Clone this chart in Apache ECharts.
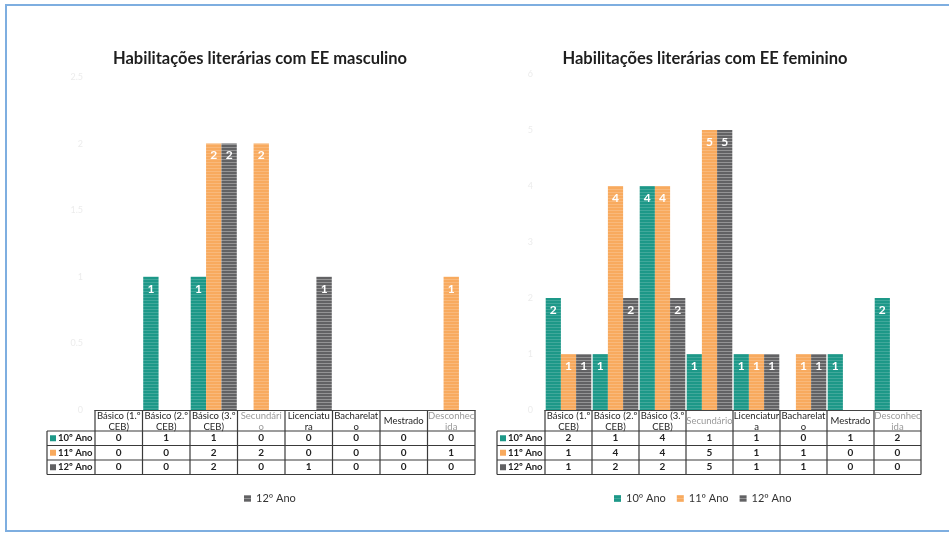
<!DOCTYPE html>
<html><head><meta charset="utf-8">
<script src="https://cdn.jsdelivr.net/npm/echarts@6/dist/echarts.min.js"></script>
<style>html,body{margin:0;padding:0;background:#fff}#c{width:949px;height:535px}</style>
</head><body><div id="c"></div>
<script>
// ---- data ----
const categories = ['Básico (1.º CEB)','Básico (2.º CEB)','Básico (3.º CEB)','Secundário','Licenciatura','Bacharelato','Mestrado','Desconhecida'];
const headerLeft = ['Básico (1.º\nCEB)','Básico (2.º\nCEB)','Básico (3.º\nCEB)','Secundári\no','Licenciatu\nra','Bacharelat\no','Mestrado','Desconhec\nida'];
const headerRight = ['Básico (1.º\nCEB)','Básico (2.º\nCEB)','Básico (3.º\nCEB)','Secundário','Licenciatur\na','Bacharelat\no','Mestrado','Desconhec\nida'];
const seriesNames = ['10º Ano','11º Ano','12º Ano'];
const masc10 = [0,1,1,0,0,0,0,0];
const masc11 = [0,0,2,2,0,0,0,1];
const masc12 = [0,0,2,0,1,0,0,0];
const fem10 = [2,1,4,1,1,0,1,2];
const fem11 = [1,4,4,5,1,1,0,0];
const fem12 = [1,2,2,5,1,1,0,0];
const titleLeft = 'Habilitações literárias com EE masculino';
const titleRight = 'Habilitações literárias com EE feminino';

// ---- layout / style ----
const FONT = 'Lato, "Open Sans", sans-serif';
const colors = ['#1d9888', '#f8aa5e', '#626264'];
const stripe = ['rgba(255,255,255,0.16)', 'rgba(255,255,255,0.18)', 'rgba(255,255,255,0.32)'];
const faded = [3, 7];
const GL = {left:95, width:380, top:77, height:333};
const GR = {left:545, width:376, top:74, height:336};
const rowTops = [431, 445.5, 460]; const rowH = 14.5; const axisY = 410;

function pattern(i) {
  const c = document.createElement('canvas');
  c.width = 4; c.height = 3;
  const ctx = c.getContext('2d');
  ctx.fillStyle = colors[i]; ctx.fillRect(0, 0, 4, 3);
  ctx.fillStyle = stripe[i]; ctx.fillRect(0, 0, 4, 1);
  return {image:c, repeat:'repeat'};
}

function bars(name, data, idx, axis) {
  return {
    type:'bar', name:name, data:data, xAxisIndex:axis, yAxisIndex:axis,
    barGap:'0%', barCategoryGap:'3%',
    itemStyle:{color:pattern(idx)},
    label:{show:true, position:'insideTop', distance:6, color:'#fff', fontWeight:'bold', fontSize:12, fontFamily:FONT,
      formatter:p => p.value ? String(p.value) : ''}
  };
}

function xAxisFor(gi, headers) {
  return {
    type:'category', gridIndex:gi, data:categories,
    axisLine:{show:true, lineStyle:{color:'#444', width:1}},
    axisTick:{show:false},
    axisLabel:{interval:0, margin:11, verticalAlign:'middle', fontSize:9.5, lineHeight:11, fontFamily:FONT, color:'#1e1e1e',
      formatter:(v, i) => faded.includes(i) ? '{f|' + headers[i] + '}' : headers[i],
      rich:{f:{color:'#9a9a9a', fontSize:9.5, lineHeight:11, fontFamily:FONT}}}
  };
}
function yAxisFor(gi, max, interval) {
  return {
    type:'value', gridIndex:gi, min:0, max:max, interval:interval,
    axisLine:{show:false}, axisTick:{show:false}, splitLine:{show:false},
    axisLabel:{color:'#ececec', fontSize:9, fontFamily:FONT, margin:12}
  };
}

function tableGraphics(G, vals) {
  const g = [];
  const x0 = G.left, x1 = G.left + G.width, cw = G.width / categories.length;
  const hx = x0 - 48, bottom = rowTops[2] + rowH;
  const line = (ax, ay, bx, by) => g.push({type:'line', shape:{x1:ax, y1:ay, x2:bx, y2:by}, style:{stroke:'#3a3a3a', lineWidth:1.2}, silent:true});
  for (let i = 0; i <= categories.length; i++) line(x0 + i*cw, axisY, x0 + i*cw, bottom);
  line(hx, rowTops[0], hx, bottom);
  rowTops.forEach(t => line(hx, t, x1, t));
  line(hx, bottom, x1, bottom);
  vals.forEach((arr, r) => {
    const cy = rowTops[r] + rowH/2;
    g.push({type:'rect', shape:{x:hx+3, y:cy-3, width:6, height:6}, style:{fill:colors[r]}, silent:true});
    g.push({type:'text', x:hx+11, y:cy, style:{text:seriesNames[r], fontSize:9.5, fontWeight:'bold', fontFamily:FONT, fill:'#222', verticalAlign:'middle', align:'left'}, silent:true});
    arr.forEach((v, i) => g.push({type:'text', x:x0 + (i+0.5)*cw, y:cy, style:{text:String(v), fontSize:10, fontWeight:'bold', fontFamily:FONT, fill:'#222', align:'center', verticalAlign:'middle'}, silent:true}));
  });
  return g;
}

const chart = echarts.init(document.getElementById('c'), null, {renderer:'canvas'});
chart.setOption({
  animation:false,
  backgroundColor:'#fff',
  title:[
    {text:titleLeft, left:255, textAlign:'center', top:45, textStyle:{fontSize:16.5, fontWeight:'bold', color:'#1e1e1e', fontFamily:FONT}},
    {text:titleRight, left:700, textAlign:'center', top:45, textStyle:{fontSize:16.5, fontWeight:'bold', color:'#1e1e1e', fontFamily:FONT}}
  ],
  legend:[
    {data:['12º Ano'], left:239, top:488, icon:'rect', itemWidth:7, itemHeight:7, itemGap:11, textStyle:{fontSize:11, color:'#333', fontFamily:FONT}},
    {data:seriesNames, left:609, top:488, icon:'rect', itemWidth:7, itemHeight:7, itemGap:11, textStyle:{fontSize:11, color:'#333', fontFamily:FONT}}
  ],
  grid:[
    Object.assign({containLabel:false}, GL),
    Object.assign({containLabel:false}, GR)
  ],
  xAxis:[xAxisFor(0, headerLeft), xAxisFor(1, headerRight)],
  yAxis:[yAxisFor(0, 2.5, 0.5), yAxisFor(1, 6, 1)],
  series:[
    bars(seriesNames[0], masc10, 0, 0), bars(seriesNames[1], masc11, 1, 0), bars(seriesNames[2], masc12, 2, 0),
    bars(seriesNames[0], fem10, 0, 1), bars(seriesNames[1], fem11, 1, 1), bars(seriesNames[2], fem12, 2, 1)
  ],
  graphic:[
    {type:'rect', shape:{x:6, y:5, width:960, height:526}, style:{fill:'none', stroke:'#7eaee0', lineWidth:2}, silent:true, z:100}
  ].concat(tableGraphics(GL, [masc10, masc11, masc12]), tableGraphics(GR, [fem10, fem11, fem12]))
});
</script></body></html>
